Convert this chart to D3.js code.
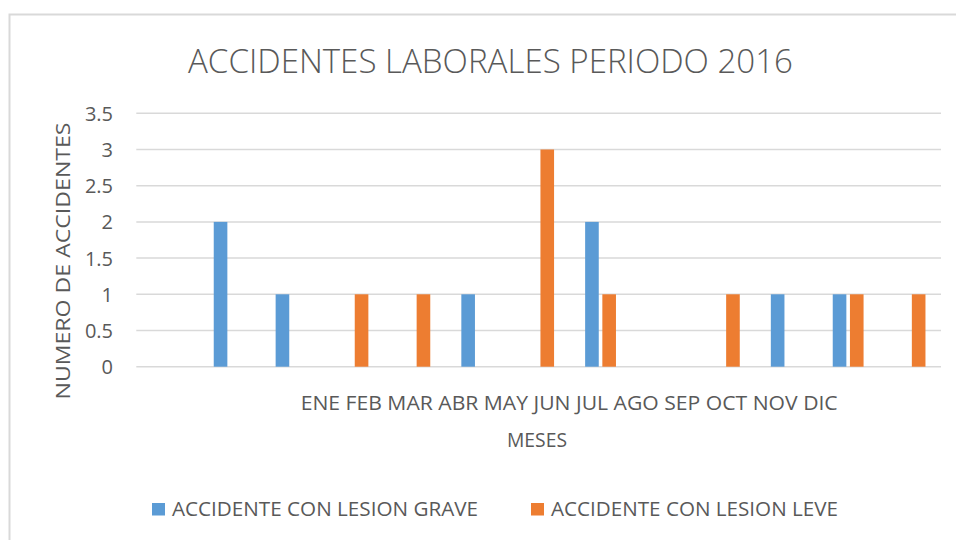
<!DOCTYPE html>
<html>
<head>
<meta charset="utf-8">
<script src="https://cdn.jsdelivr.net/npm/d3@7"></script>
<style>
  html, body { margin: 0; padding: 0; background: #fff; }
  svg { display: block; }
  text { font-family: "Open Sans", sans-serif; fill: #595959; }
</style>
</head>
<body>
<svg id="chart" width="956" height="540"></svg>
<script>
const title = "ACCIDENTES LABORALES PERIODO 2016";
const categories = ["", "ENE", "FEB", "MAR", "ABR", "MAY", "JUN", "JUL", "AGO", "SEP", "OCT", "NOV", "DIC"];
const months = ["ENE", "FEB", "MAR", "ABR", "MAY", "JUN", "JUL", "AGO", "SEP", "OCT", "NOV", "DIC"];
const grave = [null, 2, 1, null, null, 1, null, 2, null, null, 1, 1, null];
const leve  = [null, null, null, 1, 1, null, 3, 1, null, 1, null, 1, 1];
const yTicks = [0, 0.5, 1, 1.5, 2, 2.5, 3, 3.5];
const yTickLabels = ["0", "0.5", "1", "1.5", "2", "2.5", "3", "3.5"];
const seriesNames = ["ACCIDENTE CON LESION GRAVE", "ACCIDENTE CON LESION LEVE"];
const seriesColors = ["#5b9bd5", "#ed7d31"];
const yTitle = "NUMERO DE ACCIDENTES";
const xTitle = "MESES";

const svg = d3.select("#chart");

// chart border
svg.append("path")
  .attr("d", "M9.5,545 L9.5,14.5 L960,14.5")
  .attr("fill", "none").attr("stroke", "#d9d9d9").attr("stroke-width", 2);

const x = d3.scaleBand().domain(categories).range([136.3, 941]).padding(0);
const y = d3.scaleLinear().domain([0, 3.5]).range([366.7, 113.3]);

// gridlines
svg.append("g").selectAll("line").data(yTicks).join("line")
  .attr("x1", 136.3).attr("x2", 941)
  .attr("y1", d => y(d)).attr("y2", d => y(d))
  .attr("stroke", "#d9d9d9").attr("stroke-width", 1.5);

// y tick labels
svg.append("g").selectAll("text").data(yTicks).join("text")
  .attr("x", 113).attr("y", d => y(d) + 7.5)
  .attr("text-anchor", "end").attr("font-size", 20)
  .text((d, i) => yTickLabels[i]);

const step = x.step();
const bw = step * 0.22;
const gap = step * 0.058;
const series = [grave, leve];
series.forEach((vals, si) => {
  const data = categories.map((c, i) => ({ c, v: vals[i] })).filter(d => d.v != null);
  svg.append("g").selectAll("rect").data(data).join("rect")
    .attr("x", d => {
      const cx = x(d.c) + step / 2;
      return si === 0 ? cx - gap / 2 - bw : cx + gap / 2;
    })
    .attr("width", bw)
    .attr("y", d => y(d.v))
    .attr("height", d => y(0) - y(d.v))
    .attr("fill", seriesColors[si]);
});

// title
svg.append("text").attr("x", 188).attr("y", 72.7)
  .attr("font-size", 33).attr("font-weight", 300)
  .attr("textLength", 605).attr("lengthAdjust", "spacingAndGlyphs")
  .text(title);

// month labels
svg.append("text").attr("x", 300.7).attr("y", 410)
  .attr("font-size", 20.5).attr("textLength", 537).attr("lengthAdjust", "spacingAndGlyphs")
  .text(months.join(" "));

// x title
svg.append("text").attr("x", 537).attr("y", 447)
  .attr("text-anchor", "middle").attr("font-size", 20.5)
  .attr("textLength", 60).attr("lengthAdjust", "spacingAndGlyphs")
  .text(xTitle);

// y title
svg.append("text").attr("transform", "translate(70,261) rotate(-90)")
  .attr("text-anchor", "middle").attr("font-size", 20.5)
  .attr("textLength", 277).attr("lengthAdjust", "spacingAndGlyphs")
  .text(yTitle);

// legend
const legendX = [152, 531];
const legendW = [306, 287];
seriesNames.forEach((name, i) => {
  svg.append("rect").attr("x", legendX[i]).attr("y", 503).attr("width", 13).attr("height", 12.5)
    .attr("fill", seriesColors[i]);
  svg.append("text").attr("x", legendX[i] + 20).attr("y", 516)
    .attr("font-size", 19.5).attr("textLength", legendW[i]).attr("lengthAdjust", "spacingAndGlyphs")
    .text(name);
});
</script>
</body>
</html>
